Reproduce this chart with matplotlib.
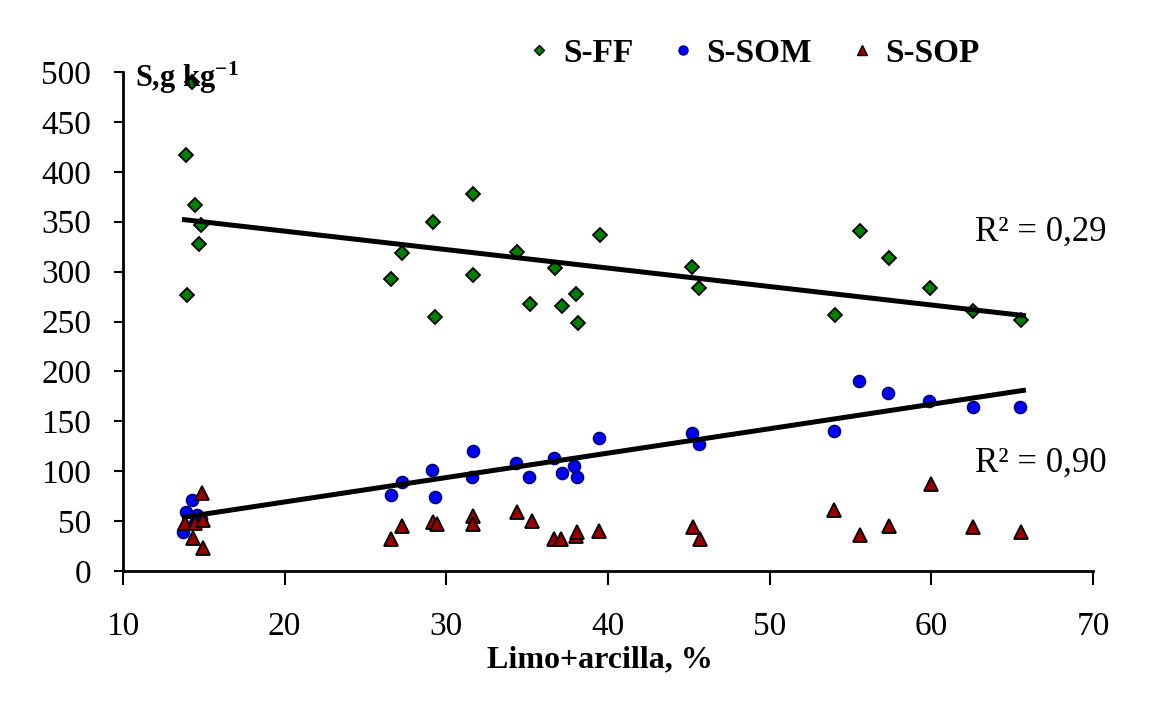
import matplotlib
matplotlib.use('Agg')
import matplotlib.pyplot as plt
from matplotlib.lines import Line2D

plt.rcParams['font.family'] = ['Liberation Serif', 'DejaVu Serif']
plt.rcParams['mathtext.fontset'] = 'custom'
plt.rcParams['mathtext.rm'] = 'Liberation Serif:bold'
plt.rcParams['mathtext.it'] = 'Liberation Serif:bold'
plt.rcParams['mathtext.bf'] = 'Liberation Serif:bold'

# ---------------- data ----------------
ff_x = [14.24, 13.88, 14.45, 14.80, 14.69, 13.98, 26.56, 27.28, 29.18, 29.30, 31.67, 31.67, 34.39, 35.20,
        36.70, 37.13, 38.00, 38.16, 39.48, 45.20, 45.63, 54.06, 55.57, 57.38, 59.90, 62.58, 65.57]
ff_y = [490, 417, 367, 347, 328, 277, 293, 319, 350, 255, 378, 297, 320, 268,
        304, 266, 278, 248, 337, 305, 284, 257, 341, 314, 284, 261, 252]

som_x = [14.24, 13.88, 14.56, 14.80, 14.45, 13.73, 26.56, 27.24, 29.10, 29.30, 31.67, 31.60, 34.30, 35.10,
         36.66, 37.13, 37.90, 38.06, 39.44, 45.20, 45.63, 53.98, 55.50, 57.30, 59.86, 62.58, 65.50]
som_y = [71, 59, 56, 52, 48, 39, 76, 89, 101, 74, 120, 94, 108, 94,
         113, 98, 105, 94, 133, 138, 127, 140, 190, 178, 170, 164, 164]

sop_x = [14.87, 13.83, 14.45, 14.97, 14.35, 14.97, 26.56, 27.28, 29.20, 29.40, 31.67, 31.67, 34.40, 35.27,
         36.66, 37.10, 38.00, 38.10, 39.44, 45.26, 45.67, 54.00, 55.60, 57.40, 60.00, 62.60, 65.57]
sop_y = [78, 48, 48, 51, 33, 23, 32, 45, 49, 47, 55, 47, 59, 50,
         32, 32, 35, 39, 40, 44, 32, 61, 36, 45, 87, 44, 39]

trend_x = [13.8, 65.7]
ff_trend_y = [352, 256]
som_trend_y = [54, 181]

r2_labels = ["R² = 0,29", "R² = 0,90"]
series_labels = ["S-FF", "S-SOM", "S-SOP"]
x_ticks = [10, 20, 30, 40, 50, 60, 70]
y_ticks = [0, 50, 100, 150, 200, 250, 300, 350, 400, 450, 500]
x_label = "Limo+arcilla, %"
y_label = r"S,g kg$^{-1}$"

# ---------------- figure ----------------
W, H = 1168, 717
fig = plt.figure(figsize=(W / 100, H / 100), dpi=100)
ax = fig.add_axes([123 / W, 1 - 571 / H, (1093 - 123) / W, (571 - 72) / H])

green, blue, red = '#008000', '#0000FF', '#990000'

ax.plot(ff_x, ff_y, ls='none', marker='D', ms=7.5, mfc=green, mec='black', mew=1.3, zorder=3)
ax.plot(som_x, som_y, ls='none', marker='o', ms=8.5, mfc=blue, mec='#000080', mew=1.3, zorder=3)
ax.plot(sop_x, sop_y, ls='none', marker='^', ms=9.5, mfc=red, mec='black', mew=1.3, zorder=3)

ax.plot(trend_x, ff_trend_y, color='black', lw=3.6, zorder=4)
ax.plot(trend_x, som_trend_y, color='black', lw=3.6, zorder=4)

ax.set_xlim(10, 70)
ax.set_ylim(0, 500)
ax.set_xticks(x_ticks)
ax.set_yticks(y_ticks)
for s in ['top', 'right']:
    ax.spines[s].set_visible(False)
for s in ['left', 'bottom']:
    ax.spines[s].set_linewidth(2.0)
ax.tick_params(axis='y', direction='out', length=6.5, width=1.5, pad=16.5, labelsize=24)
ax.tick_params(axis='x', direction='out', length=10, width=1.5, pad=19, labelsize=24)

fig.text(600 / W, 1 - 667 / H, x_label, ha='center', va='baseline', fontsize=23, fontweight='bold')
fig.text(135 / W, 1 - 87 / H, y_label, ha='left', va='baseline', fontsize=22, fontweight='bold')

fig.text(975 / W, 1 - 232 / H, r2_labels[0], ha='left', va='center', fontsize=25)
fig.text(975 / W, 1 - 463 / H, r2_labels[1], ha='left', va='center', fontsize=25)

handles = [
    Line2D([], [], ls='none', marker='D', ms=5, mfc=green, mec='black', mew=1),
    Line2D([], [], ls='none', marker='o', ms=6.5, mfc=blue, mec='#000080', mew=1),
    Line2D([], [], ls='none', marker='^', ms=7.5, mfc=red, mec='black', mew=1),
]
fig.legend(handles, series_labels, loc='center', bbox_to_anchor=(753 / W, 1 - 53 / H), ncol=3,
           frameon=False, prop={'weight': 'bold', 'size': 24}, handlelength=0.8,
           handletextpad=0.3, columnspacing=1.1)

fig.savefig('out.png', dpi=100)
